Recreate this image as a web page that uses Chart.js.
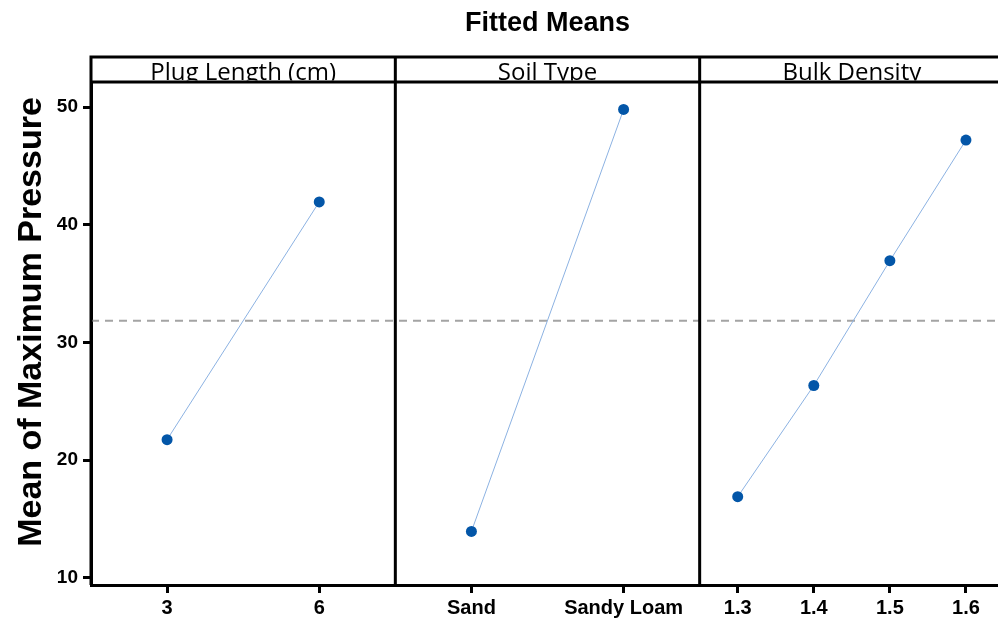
<!DOCTYPE html>
<html>
<head>
<meta charset="utf-8">
<script src="https://cdn.jsdelivr.net/npm/chart.js@4.4.1/dist/chart.umd.min.js"></script>
<style>
  html, body { margin: 0; padding: 0; background: #fff; overflow: hidden; }
  #wrap { position: relative; width: 1010px; height: 620px; }
</style>
</head>
<body>
<div id="wrap"><canvas id="fittedMeans"></canvas></div>
<script>
// ---- data ----
const plugLabels = ["3", "6"];
const plugMeans = [21.75, 41.95];

const soilLabels = ["Sand", "Sandy Loam"];
const soilMeans = [13.95, 49.8];

const densityLabels = ["1.3", "1.4", "1.5", "1.6"];
const densityMeans = [16.9, 26.35, 36.95, 47.2];

const panelTitles = ["Plug Length (cm)", "Soil Type", "Bulk Density"];
const yTicks = [10, 20, 30, 40, 50];

const chartTitle = "Fitted Means";
const yTitle = "Mean of Maximum Pressure";

// grand mean = mean of the factor-level means (dashed reference line)
const avg = (a) => a.reduce((s, v) => s + v, 0) / a.length;
const grandMean = avg([avg(plugMeans), avg(soilMeans), avg(densityMeans)]);

const BOLD = "'Liberation Sans', Arial, sans-serif";
const STRIP = "'Open Sans', 'Noto Sans', sans-serif";
const pointBlue = "#0356a8";
const lineBlue = "#8cb2e2";

// frame, strip headers, mean line and titles
const panelFrame = {
  id: "panelFrame",
  beforeDatasetsDraw(chart) {
    const { ctx, chartArea } = chart;
    const y = chart.scales.y.getPixelForValue(grandMean);
    ctx.save();
    ctx.strokeStyle = "#a4a4a4";
    ctx.lineWidth = 2;
    ctx.setLineDash([8, 6]);
    ctx.beginPath();
    ctx.moveTo(chartArea.left, y);
    ctx.lineTo(chartArea.right, y);
    ctx.stroke();
    ctx.restore();
  },
  afterDraw(chart) {
    const { ctx, chartArea } = chart;
    const stripTop = 57;
    const panels = ["x1", "x2", "x3"].map((id) => chart.scales[id]);
    ctx.save();
    ctx.strokeStyle = "#000";
    ctx.lineWidth = 3;

    // strip headers
    ctx.beginPath();
    ctx.moveTo(chartArea.left - 1.5, stripTop);
    ctx.lineTo(chartArea.right, stripTop);
    ctx.moveTo(chartArea.left, chartArea.top - 1);
    ctx.lineTo(chartArea.right, chartArea.top - 1);
    panels.forEach((s) => {
      ctx.moveTo(s.left, stripTop);
      ctx.lineTo(s.left, chartArea.bottom);
      ctx.moveTo(s.right, stripTop);
      ctx.lineTo(s.right, chartArea.bottom);
    });
    ctx.stroke();

    // strip labels (descenders are hidden behind the strip's bottom rule)
    ctx.save();
    ctx.beginPath();
    ctx.rect(chartArea.left, stripTop, chartArea.right - chartArea.left, chartArea.top - 2.5 - stripTop);
    ctx.clip();
    ctx.fillStyle = "#000";
    ctx.font = "24px " + STRIP;
    ctx.textAlign = "center";
    ctx.textBaseline = "alphabetic";
    panels.forEach((s, i) => {
      ctx.fillText(panelTitles[i], (s.left + s.right) / 2, 80);
    });
    ctx.restore();

    // main title
    ctx.fillStyle = "#000";
    ctx.font = "bold 27px " + BOLD;
    ctx.textAlign = "center";
    ctx.fillText(chartTitle, (chartArea.left + chartArea.right) / 2, 31);

    // y axis title
    ctx.translate(32, 322);
    ctx.rotate(-Math.PI / 2);
    ctx.font = "bold 34px " + BOLD;
    ctx.textBaseline = "middle";
    ctx.fillText(yTitle, 0, 0);
    ctx.restore();
  }
};

function panelAxis(labels) {
  return {
    type: "category",
    labels: labels,
    position: "bottom",
    stack: "panels",
    stackWeight: 1,
    offset: true,
    afterFit: (s) => {
      s.height = 35;
      s.paddingLeft = 0;
      s.paddingRight = 0;
    },
    grid: {
      display: true,
      offset: false,
      drawOnChartArea: false,
      drawTicks: true,
      tickLength: 8,
      color: "#000",
      lineWidth: 3
    },
    border: { display: true, color: "#000", width: 3 },
    ticks: {
      color: "#000",
      padding: 3,
      autoSkip: false,
      maxRotation: 0,
      font: { family: BOLD, size: 20, weight: "bold" }
    }
  };
}

function meansSet(data, axis) {
  return {
    data: data,
    xAxisID: axis,
    yAxisID: "y",
    borderColor: lineBlue,
    borderWidth: 1,
    pointRadius: 5.5,
    pointBackgroundColor: pointBlue,
    pointBorderColor: pointBlue,
    pointBorderWidth: 0,
    tension: 0,
    fill: false
  };
}

new Chart(document.getElementById("fittedMeans"), {
  type: "line",
  data: {
    datasets: [
      meansSet(plugMeans, "x1"),
      meansSet(soilMeans, "x2"),
      meansSet(densityMeans, "x3")
    ]
  },
  options: {
    responsive: true,
    maintainAspectRatio: false,
    animation: false,
    layout: { padding: { top: 83, right: 6, bottom: 0, left: 0 } },
    plugins: {
      legend: { display: false },
      tooltip: { enabled: false },
      title: { display: false }
    },
    scales: {
      x1: panelAxis(plugLabels),
      x2: panelAxis(soilLabels),
      x3: panelAxis(densityLabels),
      y: {
        type: "linear",
        position: "left",
        min: 9.4,
        max: 52.05,
        afterFit: (s) => { s.width = 91; },
        afterBuildTicks: (s) => { s.ticks = yTicks.map((v) => ({ value: v })); },
        grid: {
          display: true,
          drawOnChartArea: false,
          drawTicks: true,
          tickLength: 8,
          color: "#000",
          lineWidth: 3
        },
        border: { display: true, color: "#000", width: 3 },
        ticks: {
          color: "#000",
          padding: 5,
          font: { family: BOLD, size: 19, weight: "bold" }
        }
      }
    }
  },
  plugins: [panelFrame]
});
</script>
</body>
</html>
